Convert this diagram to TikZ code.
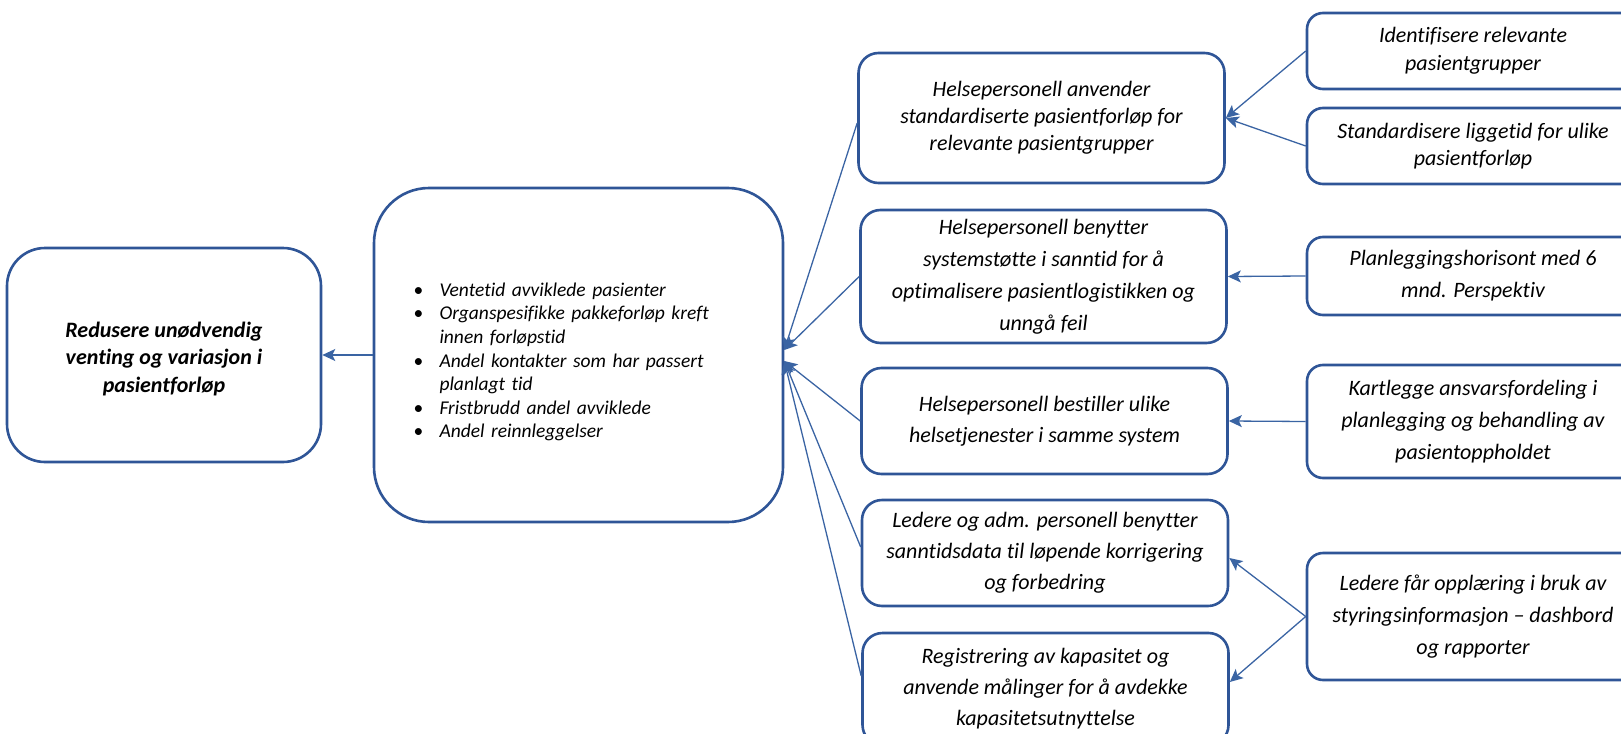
\documentclass[tikz,border=0pt]{standalone}
\usepackage{fontspec}
\setmainfont{Carlito}[Ligatures={NoCommon}]
\usetikzlibrary{arrows.meta}
\definecolor{boxblue}{HTML}{2F5597}
\definecolor{lineblue}{HTML}{3A64A3}
% one bullet point; wrapped lines hang under the text
\newcommand\listline[1]{\hangindent=26pt\hangafter=1\noindent
  \makebox[26pt][l]{\upshape\textbullet}#1\par}
\newcommand\wrapline{\hfil\break}

\begin{document}
\begin{tikzpicture}[x=1pt,y=-1pt,
  box/.style={draw=boxblue, line width=2.6pt, fill=white, align=center, inner sep=0pt},
  lead/.style={font=\fontsize{22}{#1}\selectfont\itshape},
  goalbox/.style={box, rounded corners=38pt, minimum width=314pt, minimum height=214pt,
    font=\fontsize{22}{27.5}\selectfont\bfseries\itshape},
  measurebox/.style={box, rounded corners=55pt, minimum width=409pt, minimum height=334pt,
    text width=330pt, align=left, font=\fontsize{19.5}{23.6}\selectfont\itshape},
  actionbox/.style={box, rounded corners=20pt, minimum width=366pt},
  taskbox/.style={box, rounded corners=16pt, minimum width=332pt},
  conn/.style={draw=lineblue, line width=1.3pt, -{Stealth[length=13pt,width=12pt,inset=3pt]}}
]
\useasboundingbox (0,0) rectangle (1621,733);
\clip (0,0) rectangle (1621,733);

% goal and measures
\node[goalbox] (A) at (164,355)
  {\rule{0pt}{23pt}Redusere unødvendig\\venting og variasjon i\\pasientforløp};
\node[measurebox] (B) at (578.5,355) {%
  \rule{0pt}{4pt}\par
  \listline{Ventetid avviklede pasienter}
  \listline{Organspesifikke pakkeforløp kreft\wrapline innen forløpstid}
  \listline{Andel kontakter som har passert\wrapline planlagt tid}
  \listline{Fristbrudd andel avviklede}
  \listline{Andel reinnleggelser}};

% primary drivers
\node[actionbox, lead=27, minimum height=130pt] (C1) at (1041.5,118)
  {Helsepersonell anvender\\standardiserte pasientforløp for\\relevante pasientgrupper};
\node[actionbox, lead=32, minimum height=133pt] (C2) at (1043.5,276.5)
  {Helsepersonell benytter\\systemstøtte i sanntid for å\\optimalisere pasientlogistikken og\\unngå feil};
\node[actionbox, lead=31, minimum height=106pt] (C3) at (1044.5,421)
  {Helsepersonell bestiller ulike\\helsetjenester i samme system};
\node[actionbox, lead=31, minimum height=106pt] (C4) at (1045,553)
  {Ledere og adm. personell benytter\\sanntidsdata til løpende korrigering\\og forbedring};
\node[actionbox, lead=31, minimum height=112pt] (C5) at (1045.5,689)
  {Registrering av kapasitet og\\anvende målinger for å avdekke\\kapasitetsutnyttelse};

% secondary drivers
\node[taskbox, lead=28, minimum height=76pt] (D1) at (1473,51)
  {Identifisere relevante\\pasientgrupper};
\node[taskbox, lead=27, minimum height=76pt] (D2) at (1473,146)
  {Standardisere liggetid for ulike\\pasientforløp};
\node[taskbox, lead=32, minimum height=78pt] (D3) at (1473,276)
  {Planleggingshorisont med 6\\mnd. Perspektiv};
\node[taskbox, lead=32, minimum height=113pt] (D4) at (1473,421.5)
  {Kartlegge ansvarsfordeling i\\planlegging og behandling av\\pasientoppholdet};
\node[taskbox, lead=32, minimum height=127pt] (D5) at (1473,616.5)
  {Ledere får opplæring i bruk av\\styringsinformasjon – dashbord\\og rapporter};

% connectors
\draw[conn] (B.west |- A.east) -- (A.east);
\draw[conn] ([yshift=-5pt]C1.west) -- ([yshift=5pt]B.east);
\draw[conn] (C2.west) -- ([yshift=5pt]B.east);
\draw[conn] (C3.west) -- ([yshift=-6pt]B.east);
\draw[conn] ([yshift=6pt]C4.west) -- ([yshift=-6pt]B.east);
\draw[conn] ([yshift=13pt]C5.west) -- ([yshift=-6pt]B.east);
\draw[conn] (D1.west) -- (C1.east);
\draw[conn] (D2.west) -- (C1.east);
\draw[conn] (D3.west) -- (C2.east);
\draw[conn] (D4.west) -- (C3.east);
\draw[conn] (D5.west) -- ([yshift=-5pt]C4.east);
\draw[conn] (D5.west) -- ([yshift=7pt]C5.east);
\end{tikzpicture}
\end{document}
